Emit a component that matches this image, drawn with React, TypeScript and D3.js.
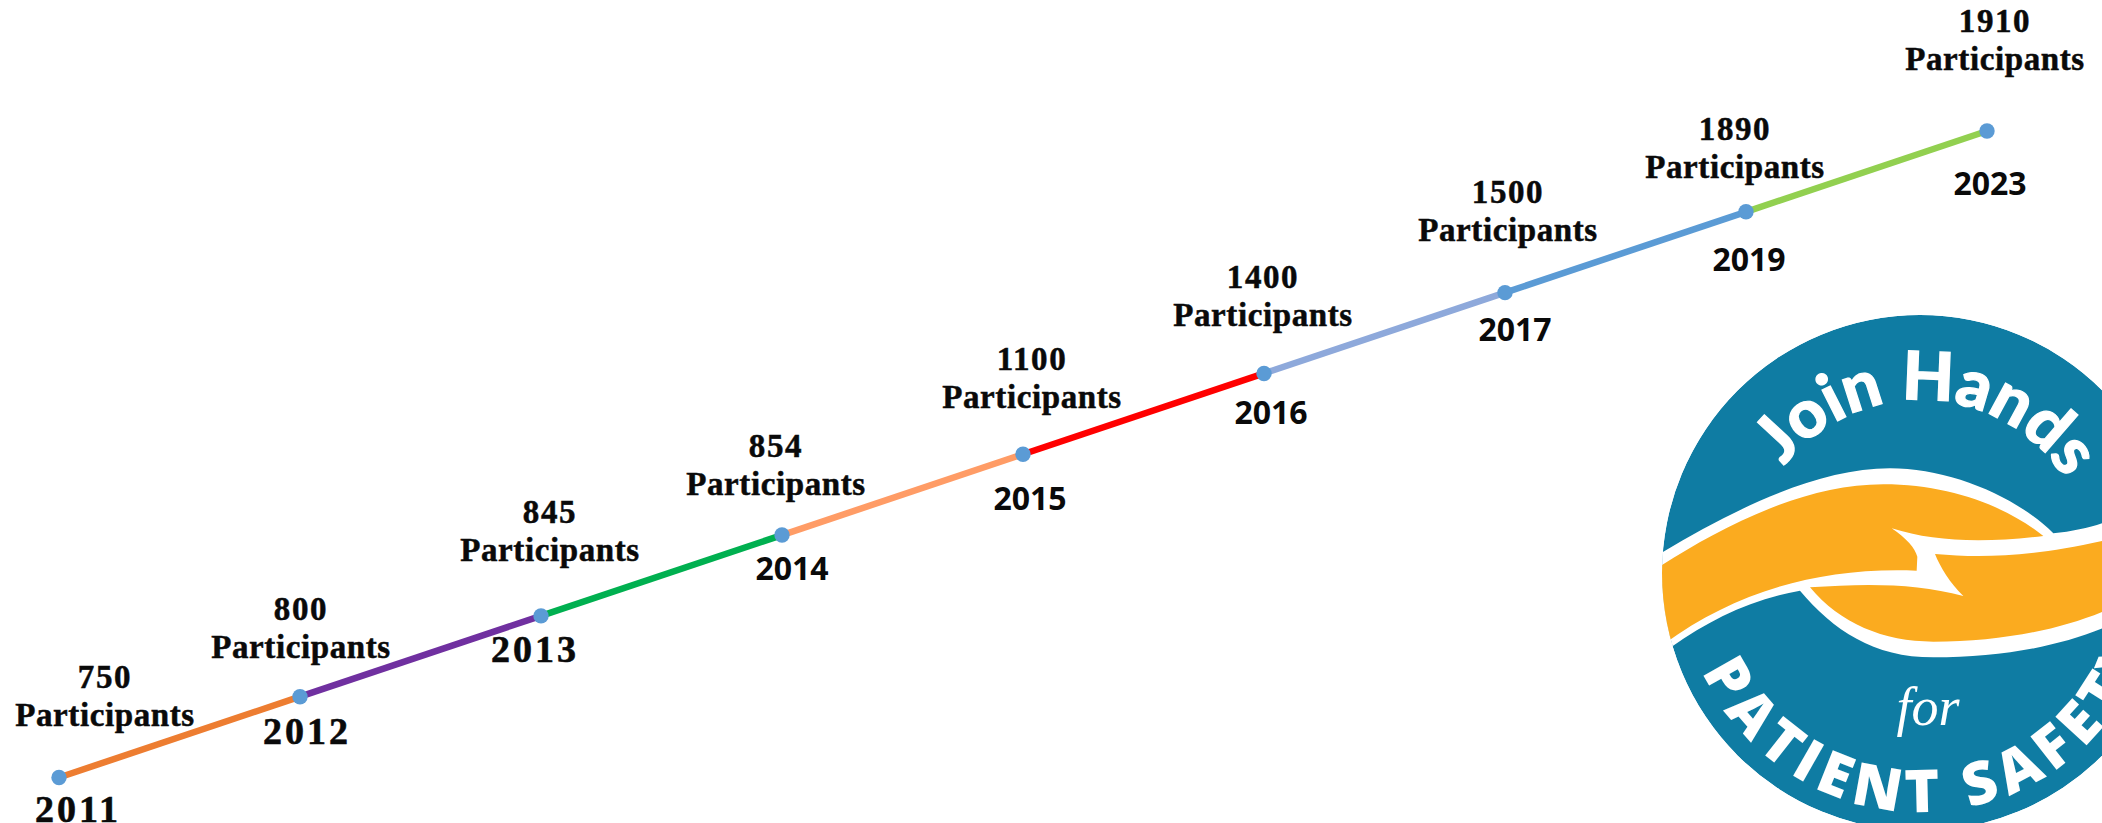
import React from "react";
import * as d3 from "d3";

const years = ["2011", "2012", "2013", "2014", "2015", "2016", "2017", "2019", "2023"];
const participants = ["750", "800", "845", "854", "1100", "1400", "1500", "1890", "1910"];
const segmentColors = ["#ED7D31", "#7030A0", "#00B050", "#FF9C66", "#FF0000", "#8EA9DB", "#5B9BD5", "#92D050"];

// hand placement of the labels relative to their point
const countNudge = [46, 1, 9, -6, 9, -1, 3, -11, 8];
const countRise = [52, 39, 55, 40, 46, 47, 52, 34, 61];
const yearNudge = [19, 7, -6, 10, 7, 7, 10, 3, 3];
const yearDrop = [44, 47, 46, 45, 56, 51, 48, 59, 64];

const W = 2102, H = 823;
const x = d3.scalePoint<string>().domain(years).range([59, 1987]);
const y = d3.scalePoint<string>().domain(years).range([777.5, 131]);
const line = d3.line<string>().x((d) => x(d)!).y((d) => y(d)!);

const SERIF = "'Liberation Serif', serif";
const SANS = "'Open Sans', sans-serif";
const cx = 1920, cy = 573, r = 258;

function Logo() {
  const blue = "#0F7CA3", orange = "#FBAB1F";
  const rt = 173, rb = 239;
  return (
    <g>
      <defs>
        <clipPath id="disc"><circle cx={cx} cy={cy} r={r} /></clipPath>
        <path id="topArc" d={`M${cx - rt},${cy} A${rt},${rt} 0 0 1 ${cx + rt},${cy}`} />
        <path id="botArc" d={`M${cx - rb},${cy} A${rb},${rb} 0 0 0 ${cx + rb},${cy}`} />
      </defs>
      <g clipPath="url(#disc)">
        <circle cx={cx} cy={cy} r={r} fill={blue} />
        <g transform="translate(1600,300) scale(0.33333)">
          <path fill="#fff" d="M150,775 L190,755 C400,630 650,505 870,505 C1050,505 1250,590 1360,700 C1420,695 1480,680 1520,665 L1520,980 C1380,1040 1200,1072 1000,1072 C820,1072 700,990 600,872 C450,900 330,960 215,1040 L150,1060 Z" />
          <path fill={orange} d="M170,805 C350,690 600,553 850,553 C1050,553 1220,620 1330,708 C1150,730 1000,725 875,685 C920,715 945,745 952,770 L950,812 C650,800 400,880 195,1030 Z" />
          <path fill={orange} d="M1005,762 C1020,800 1050,850 1090,888 C950,850 800,850 630,862 C720,970 850,1025 1000,1025 C1200,1025 1380,990 1520,930 L1520,720 C1300,770 1150,775 1005,762 Z" />
        </g>
        <text fontFamily="Lato, sans-serif" fontWeight={900} fontSize={67} fill="#fff" stroke="#fff" strokeWidth={1.2}>
          <textPath href="#topArc" startOffset="51.5%" textAnchor="middle">Join Hands</textPath>
        </text>
        <text fontFamily={SANS} fontWeight={800} fontSize={59} fill="#fff" letterSpacing={7}>
          <textPath href="#botArc" startOffset="13.5%">PATIENT SAFETY</textPath>
        </text>
        <text x={1928} y={725} textAnchor="middle" fontFamily={SERIF} fontStyle="italic" fontSize={54} fill="#fff">for</text>
      </g>
    </g>
  );
}

export default function App() {
  return (
    <svg width={W} height={H} viewBox={`0 0 ${W} ${H}`} style={{ position: "absolute", left: 0, top: 0, background: "#fff" }}>
      <Logo />
      {segmentColors.map((c, i) => (
        <path key={c} d={line(years.slice(i, i + 2))!} stroke={c} strokeWidth={6.5} fill="none" />
      ))}
      {years.map((yr) => (
        <circle key={yr} cx={x(yr)} cy={y(yr)} r={7.7} fill="#5B9BD5" />
      ))}
      {years.map((yr, i) => {
        const px = x(yr)!, py = y(yr)!;
        const serifYear = i < 3;
        return (
          <g key={yr} fill="#0a0a0a" fontWeight={700} textAnchor="middle">
            <g stroke="#0a0a0a" strokeWidth={0.5}>
              <text x={px + countNudge[i]} y={py - countRise[i] - 38} fontFamily={SERIF} fontSize={33} letterSpacing={1.6}>{participants[i]}</text>
              <text x={px + countNudge[i]} y={py - countRise[i]} fontFamily={SERIF} fontSize={33} letterSpacing={0.6}>Participants</text>
            </g>
            <text x={px + yearNudge[i]} y={py + yearDrop[i]} fontFamily={serifYear ? SERIF : SANS} fontSize={serifYear ? 38 : 32} letterSpacing={serifYear ? 3 : 0} stroke={serifYear ? "#0a0a0a" : "none"} strokeWidth={serifYear ? 0.6 : 0}>{yr}</text>
          </g>
        );
      })}
    </svg>
  );
}
